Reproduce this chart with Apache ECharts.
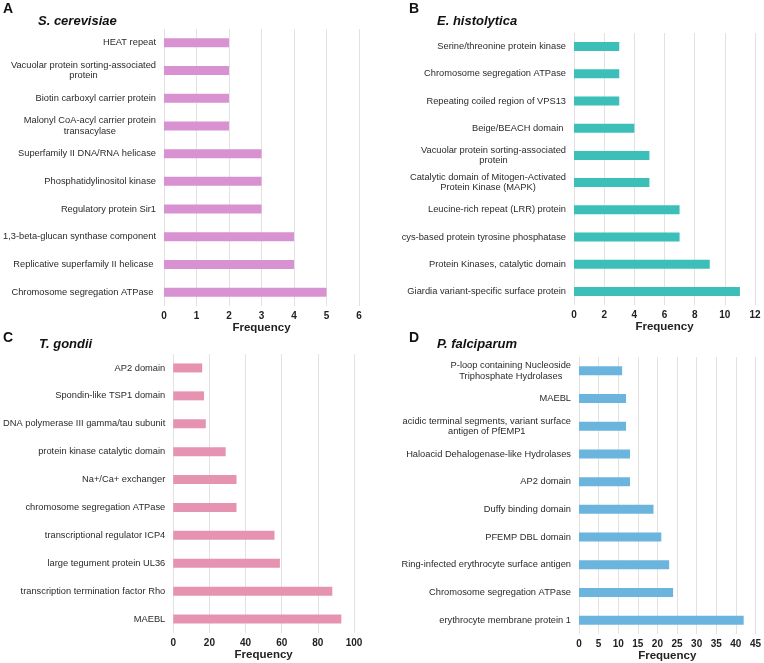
<!DOCTYPE html>
<html lang="en">
<head>
	<meta charset="UTF-8">
	<title>Top domains per organism</title>
	<script src="https://cdn.jsdelivr.net/npm/echarts@6/dist/echarts.min.js"></script>
	<style>
		html, body { margin: 0; padding: 0; background: #fff; }
	</style>
</head>
<body>
	<div id="main" style="width: 764px; height: 663px;"></div>
	<script>
		// A - S. cerevisiae (top to bottom)
		var catA = ['HEAT repeat', 'Vacuolar protein sorting-associated\nprotein', 'Biotin carboxyl carrier protein',
			'Malonyl CoA-acyl carrier protein\ntransacylase', 'Superfamily II DNA/RNA helicase', 'Phosphatidylinositol kinase',
			'Regulatory protein Sir1', '1,3-beta-glucan synthase component', 'Replicative superfamily II helicase ',
			'Chromosome segregation ATPase ']
		var valA = [2, 2, 2, 2, 3, 3, 3, 4, 4, 5]

		// B - E. histolytica
		var catB = ['Serine/threonine protein kinase', 'Chromosome segregation ATPase', 'Repeating coiled region of VPS13',
			'Beige/BEACH domain ', 'Vacuolar protein sorting-associated\nprotein',
			'Catalytic domain of Mitogen-Activated\nProtein Kinase (MAPK)', 'Leucine-rich repeat (LRR) protein',
			'cys-based protein tyrosine phosphatase', 'Protein Kinases, catalytic domain', 'Giardia variant-specific surface protein']
		var valB = [3, 3, 3, 4, 5, 5, 7, 7, 9, 11]

		// C - T. gondii
		var catC = ['AP2 domain', 'Spondin-like TSP1 domain', 'DNA polymerase III gamma/tau subunit', 'protein kinase catalytic domain',
			'Na+/Ca+ exchanger', 'chromosome segregation ATPase', 'transcriptional regulator ICP4', 'large tegument protein UL36',
			'transcription termination factor Rho', 'MAEBL']
		var valC = [16, 17, 18, 29, 35, 35, 56, 59, 88, 93]

		// D - P. falciparum
		var catD = ['P-loop containing Nucleoside\nTriphosphate Hydrolases', 'MAEBL',
			'acidic terminal segments, variant surface\nantigen of PfEMP1', 'Haloacid Dehalogenase-like Hydrolases', 'AP2 domain',
			'Duffy binding domain', 'PFEMP DBL domain', 'Ring-infected erythrocyte surface antigen', 'Chromosome segregation ATPase',
			'erythrocyte membrane protein 1']
		var valD = [11, 12, 12, 13, 13, 19, 21, 23, 24, 42]

		var font = '"Liberation Sans", Arial, sans-serif'

		var panels = [
			{ letter: 'A', name: 'S. cerevisiae', cats: catA, vals: valA, color: '#d892d2', max: 6, interval: 1,
				grid: { left: 163, top: 29, width: 196, height: 277 }, lx: 3, nx: 38, ly: 2, ny: 15 },
			{ letter: 'B', name: 'E. histolytica', cats: catB, vals: valB, color: '#3bbfb8', max: 12, interval: 2,
				grid: { left: 574, top: 33, width: 181, height: 272 }, lx: 409, nx: 437, ly: 2, ny: 15 },
			{ letter: 'C', name: 'T. gondii', cats: catC, vals: valC, color: '#e593b0', max: 100, interval: 20,
				grid: { left: 172, top: 354, width: 182, height: 279 }, lx: 3, nx: 39, ly: 331, ny: 338 },
			{ letter: 'D', name: 'P. falciparum', cats: catD, vals: valD, color: '#6bb4dd', max: 45, interval: 5,
				grid: { left: 579, top: 357, width: 177, height: 277 }, lx: 409, nx: 437, ly: 331, ny: 338 }
		]

		var grids = [], xAxes = [], yAxes = [], series = [], titles = []
		panels.forEach(function (p, i) {
			grids.push(p.grid)
			titles.push({
				text: p.letter, left: p.lx, top: p.ly, padding: 0,
				textStyle: { fontFamily: font, fontSize: 14, fontWeight: 'bold', color: '#111' }
			})
			titles.push({
				text: p.name, left: p.nx, top: p.ny, padding: 0,
				textStyle: { fontFamily: font, fontSize: 13, fontWeight: 'bold', fontStyle: 'italic', color: '#111' }
			})
			xAxes.push({
				type: 'value', gridIndex: i, min: 0, max: p.max, interval: p.interval,
				axisLine: { show: false }, axisTick: { show: false },
				splitLine: { lineStyle: { color: '#e2e2e2', width: 1 } },
				axisLabel: { fontFamily: font, fontSize: 10, fontWeight: 'bold', color: '#222', margin: 5 },
				name: 'Frequency', nameLocation: 'middle', nameGap: 14,
				nameTextStyle: { fontFamily: font, fontSize: 11.5, fontWeight: 'bold', color: '#222' }
			})
			yAxes.push({
				type: 'category', gridIndex: i, inverse: true, data: p.cats,
				axisLine: { show: false }, axisTick: { show: false },
				axisLabel: {
					margin: 8, fontFamily: font, fontSize: 9.3, color: '#2a2a2a',
					// center the lines of two-line labels against each other
					formatter: function (v) {
						return v.split('\n').map(function (l) { return '{c|' + l + '}' }).join('\n')
					},
					rich: { c: { fontFamily: font, fontSize: 9.3, color: '#2a2a2a', align: 'center', lineHeight: 10.5 } }
				}
			})
			series.push({
				type: 'bar', xAxisIndex: i, yAxisIndex: i, data: p.vals, barWidth: 9,
				itemStyle: { color: p.color }, silent: true
			})
		})

		var myChart = echarts.init(document.getElementById('main'))
		myChart.setOption({
			animation: false,
			title: titles,
			grid: grids,
			xAxis: xAxes,
			yAxis: yAxes,
			series: series
		})
	</script>
</body>
</html>
